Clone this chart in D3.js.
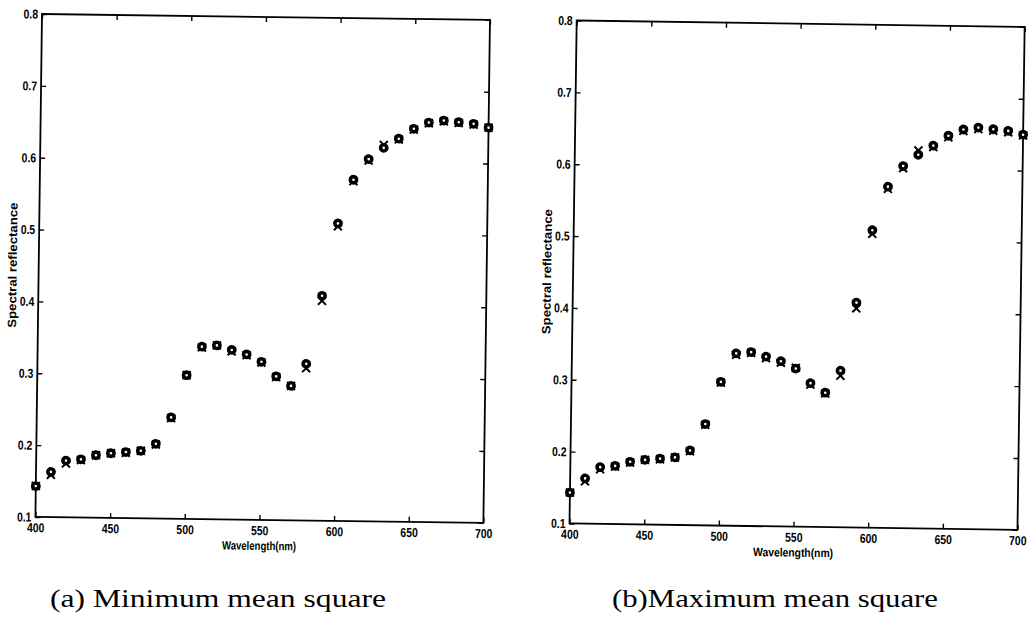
<!DOCTYPE html>
<html>
<head>
<meta charset="utf-8">
<script src="https://cdn.jsdelivr.net/npm/d3@7"></script>
<style>
  html, body { margin: 0; padding: 0; background: #fff; }
  svg { display: block; }
</style>
</head>
<body>
<svg id="chart" width="1035" height="618"></svg>
<script>
// ---------------- data ----------------
const wavelengths = [400,410,420,430,440,450,460,470,480,490,500,510,520,530,540,550,560,570,580,590,600,610,620,630,640,650,660,670,680,690,700];
const xTicks = [400,450,500,550,600,650,700];
const yTicks = [0.1,0.2,0.3,0.4,0.5,0.6,0.7,0.8];

// (a) Minimum mean square: measured ("o") and estimated ("x")
const measuredA  = [0.143,0.163,0.179,0.181,0.187,0.190,0.192,0.194,0.204,0.241,0.300,0.340,0.342,0.336,0.330,0.320,0.300,0.287,0.318,0.413,0.514,0.575,0.604,0.620,0.633,0.647,0.656,0.659,0.657,0.655,0.650];
const estimatedA = [0.143,0.159,0.175,0.180,0.187,0.190,0.191,0.194,0.203,0.240,0.300,0.339,0.342,0.334,0.329,0.319,0.299,0.287,0.312,0.406,0.510,0.573,0.602,0.624,0.632,0.646,0.655,0.658,0.656,0.654,0.650];
// (b) Maximum mean square
const measuredB  = [0.143,0.163,0.179,0.181,0.187,0.190,0.192,0.194,0.204,0.241,0.300,0.340,0.342,0.336,0.330,0.320,0.300,0.287,0.318,0.413,0.514,0.575,0.604,0.620,0.633,0.647,0.656,0.659,0.657,0.655,0.650];
const estimatedB = [0.143,0.159,0.176,0.180,0.186,0.190,0.191,0.194,0.203,0.240,0.299,0.338,0.341,0.334,0.328,0.321,0.298,0.286,0.311,0.405,0.509,0.572,0.601,0.626,0.631,0.645,0.654,0.657,0.655,0.653,0.649];

const captions = ["(a) Minimum mean square", "(b)Maximum mean square"];
const xTitle = "Wavelength(nm)";
const yTitle = "Spectral reflectance";

// ---------------- layout ----------------
const W = 448, H = 503;
const panels = [
  { x: 42,    y: 14,   rot: 0.75, measured: measuredA, estimated: estimatedA, caption: captions[0], capX: 218, capW: 336, xtW: 74 },
  { x: 576.7, y: 20.5, rot: 0.82, measured: measuredB, estimated: estimatedB, caption: captions[1], capX: 775, capW: 326, xtW: 80 }
];

const svg = d3.select("#chart");
svg.append("rect").attr("width", 1035).attr("height", 618).attr("fill", "#fff");

const tickFont = "'Liberation Sans', Arial, sans-serif";

function drawPanel(p) {
  const g = svg.append("g").attr("transform", `translate(${p.x},${p.y}) rotate(${p.rot})`);
  const x = d3.scaleLinear().domain([400, 700]).range([0, W]);
  const y = d3.scaleLinear().domain([0.1, 0.8]).range([H, 0]);

  const styleAxis = (sel) => {
    sel.select(".domain").remove();
    sel.selectAll(".tick line").attr("stroke", "#000").attr("stroke-width", 1.4);
    sel.selectAll("text")
      .attr("fill", "#000")
      .attr("font-family", tickFont)
      .attr("font-weight", "bold")
      .attr("font-size", 13);
  };

  // bottom axis
  const gb = g.append("g").attr("transform", `translate(0,${H})`)
    .call(d3.axisBottom(x).tickValues(xTicks).tickFormat(d3.format("d")).tickSizeInner(-5).tickSizeOuter(0).tickPadding(6));
  styleAxis(gb);
  gb.selectAll("text").attr("transform", "scale(0.8,1)");

  // top axis (ticks only)
  const gt = g.append("g")
    .call(d3.axisTop(x).tickValues(xTicks).tickFormat("").tickSizeInner(-5).tickSizeOuter(0));
  styleAxis(gt);

  // left axis
  const gl = g.append("g")
    .call(d3.axisLeft(y).tickValues(yTicks).tickFormat(d3.format(".1f")).tickSizeInner(-5).tickSizeOuter(0));
  styleAxis(gl);
  gl.selectAll("text").attr("x", -4 / 0.8).attr("transform", "scale(0.8,1)");

  // right axis (ticks only)
  const gr = g.append("g").attr("transform", `translate(${W},0)`)
    .call(d3.axisRight(y).tickValues(yTicks).tickFormat("").tickSizeInner(-5).tickSizeOuter(0));
  styleAxis(gr);

  // frame
  g.append("rect").attr("x", 0).attr("y", 0).attr("width", W).attr("height", H)
    .attr("fill", "none").attr("stroke", "#000").attr("stroke-width", 1.8);

  // axis titles
  g.append("text")
    .attr("x", W / 2).attr("y", H + 30)
    .attr("text-anchor", "middle")
    .attr("font-family", tickFont).attr("font-weight", "bold").attr("font-size", 12)
    .attr("textLength", p.xtW).attr("lengthAdjust", "spacingAndGlyphs")
    .text(xTitle);

  g.append("text")
    .attr("transform", `translate(-22,${H / 2}) rotate(-90)`)
    .attr("text-anchor", "middle")
    .attr("font-family", tickFont).attr("font-weight", "bold").attr("font-size", 12)
    .attr("textLength", 125).attr("lengthAdjust", "spacingAndGlyphs")
    .text(yTitle);

  const pts = wavelengths.map((w, i) => ({ w, m: p.measured[i], e: p.estimated[i] }));

  // estimated values: "x" markers
  const s = 4;
  g.append("g").selectAll("path").data(pts).join("path")
    .attr("d", d => {
      const cx = x(d.w), cy = y(d.e);
      return `M${cx - s},${cy - s}L${cx + s},${cy + s}M${cx - s},${cy + s}L${cx + s},${cy - s}`;
    })
    .attr("stroke", "#000").attr("stroke-width", 2).attr("fill", "none");

  // measured values: "o" markers
  g.append("g").selectAll("circle").data(pts).join("circle")
    .attr("cx", d => x(d.w)).attr("cy", d => y(d.m)).attr("r", 3.1)
    .attr("fill", "#fff").attr("stroke", "#000").attr("stroke-width", 3.6);

  // caption
  svg.append("text")
    .attr("x", p.capX).attr("y", 607)
    .attr("text-anchor", "middle")
    .attr("font-family", "'Liberation Serif', 'DejaVu Serif', serif")
    .attr("font-size", 25)
    .attr("textLength", p.capW).attr("lengthAdjust", "spacingAndGlyphs")
    .text(p.caption);
}

panels.forEach(drawPanel);
</script>
</body>
</html>
